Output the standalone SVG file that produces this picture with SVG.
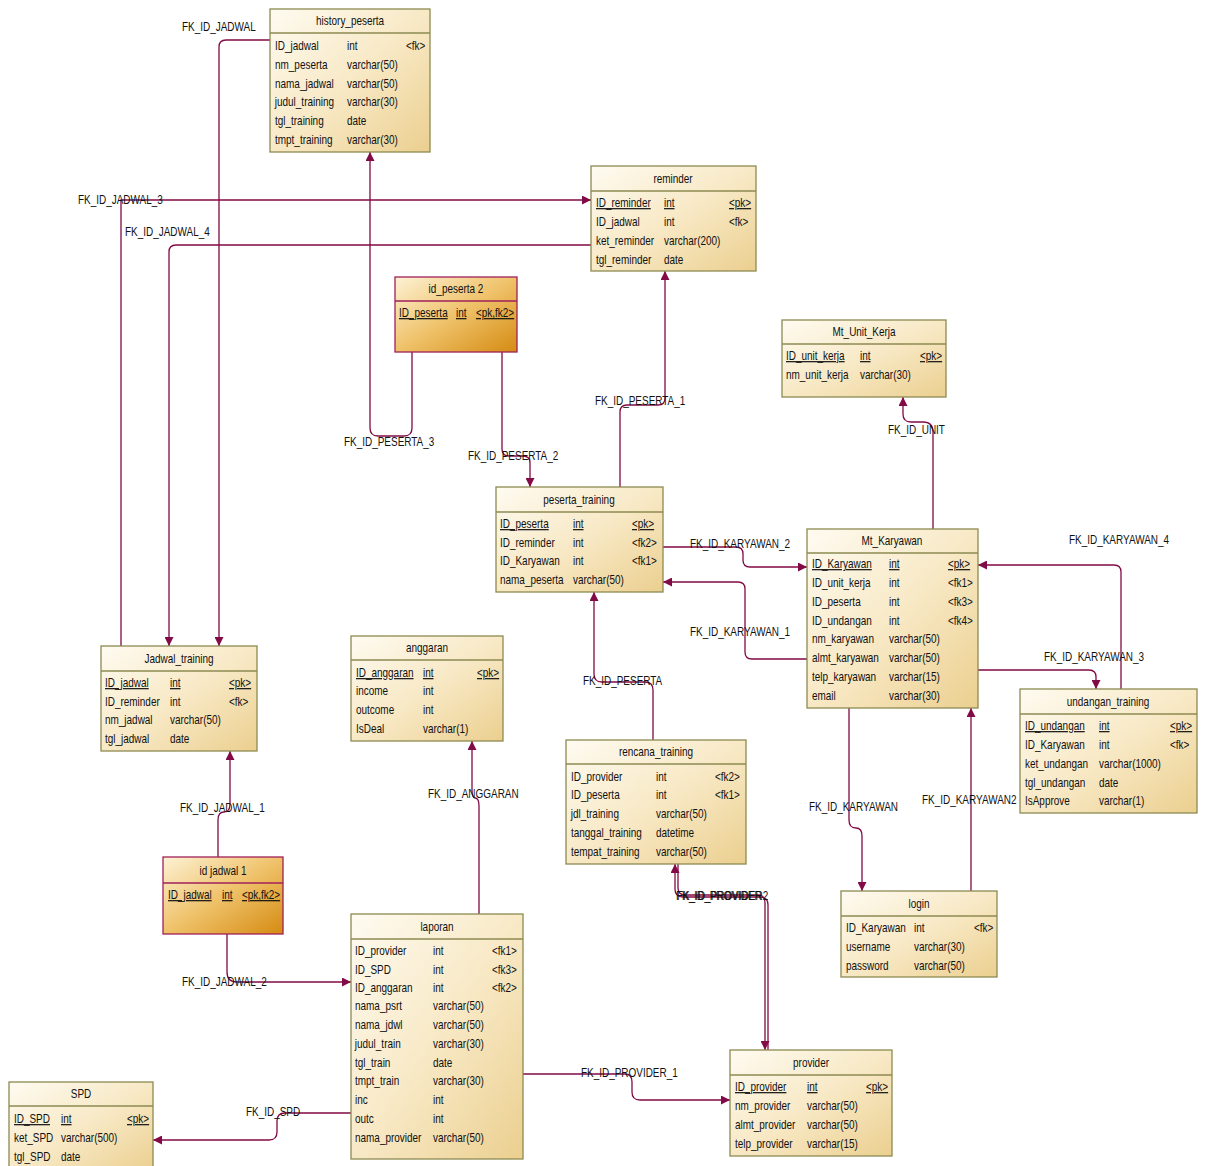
<svg xmlns="http://www.w3.org/2000/svg" width="1208" height="1166" viewBox="0 0 1208 1166">
<defs>
<linearGradient id="gN" x1="0" y1="0" x2="1" y2="1">
<stop offset="0" stop-color="#fefbf1"/>
<stop offset="0.5" stop-color="#f8e9c6"/>
<stop offset="1" stop-color="#ebcf8f"/>
</linearGradient>
<linearGradient id="gO" x1="0" y1="0" x2="1" y2="1">
<stop offset="0" stop-color="#fdf2d6"/>
<stop offset="0.5" stop-color="#efc26a"/>
<stop offset="1" stop-color="#d58b12"/>
</linearGradient>
<marker id="ar" viewBox="0 0 10 10" refX="10" refY="5" markerWidth="10" markerHeight="9" markerUnits="userSpaceOnUse" orient="auto">
<path d="M0,0 L10,5 L0,10 z" fill="#820a46"/>
</marker>
<style>
.b{fill:url(#gN);stroke:#8c8a52;stroke-width:1.3}
.o{fill:url(#gO);stroke:#a0205a;stroke-width:1.3}
.sep{stroke:#8c8a52;stroke-width:1.3}
.sepo{stroke:#a0205a;stroke-width:1.3}
text{font-family:"Liberation Sans",Arial,sans-serif;font-size:12px;fill:#111;transform-box:fill-box;transform-origin:left center;transform:scaleX(0.83)}
text.t{text-anchor:middle;transform-origin:center}
.u{text-decoration:underline}
.c path{fill:none;stroke:#820a46;stroke-width:1.3}
.a{marker-end:url(#ar)}
</style>
</defs>
<rect width="1208" height="1166" fill="#ffffff"/>

<g class="c" id="connectors">
<path class="a" d="M270,40 H226 Q219,40 219,47 V646"/>
<path class="a" d="M121,646 V200 H591"/>
<path class="a" d="M591,245 H176 Q169,245 169,252 V646"/>
<path class="a" d="M412,352 V428 Q412,436 404,436 H378 Q370,436 370,428 V152"/>
<path class="a" d="M502,352 V449 Q502,456 509,456 H523 Q530,456 530,463 V487"/>
<path class="a" d="M620,487 V412 Q620,405 627,405 H658 Q665,405 665,398 V271"/>
<path class="a" d="M933,529 V432 Q933,422 923,422 H911 Q903,422 903,414 V397"/>
<path class="a" d="M663,547 H736 Q743,547 743,554 V560 Q743,567 750,567 H807"/>
<path class="a" d="M807,659 H752 Q745,659 745,652 V589 Q745,582 738,582 H663"/>
<path class="a" d="M1121,689 V572 Q1121,565 1114,565 H978"/>
<path class="a" d="M978,670 H1089 Q1096,670 1096,677 V689"/>
<path class="a" d="M849,708 V820 Q849,828 856,828 Q862,828 862,836 V891"/>
<path class="a" d="M971,891 V708"/>
<path class="a" d="M653,740 V690 Q653,682 645,682 H602 Q594,682 594,674 V592"/>
<path class="a" d="M479,914 V806 Q479,798 475,798 Q472,798 472,790 V741"/>
<path class="a" d="M218,857 V820 Q218,812 224,812 Q230,812 230,804 V751"/>
<path class="a" d="M227,934 V972 Q227,982 237,982 H351"/>
<path class="a" d="M351,1113 H285 Q277,1113 277,1121 V1132 Q277,1140 269,1140 H153"/>
<path class="a" d="M523,1074 H625 Q632,1074 632,1082 V1092 Q632,1100 640,1100 H730"/>
<path class="a" d="M768,1050 V905 Q768,897 760,897 H683 Q675,897 675,889 V864"/>
<path class="a" d="M678,864 V888 Q678,895 686,895 H758 Q765,895 765,903 V1050"/>
</g>

<g id="labels">
<text x="182" y="31">FK_ID_JADWAL</text>
<text x="78" y="204">FK_ID_JADWAL_3</text>
<text x="125" y="236">FK_ID_JADWAL_4</text>
<text x="344" y="446">FK_ID_PESERTA_3</text>
<text x="468" y="460">FK_ID_PESERTA_2</text>
<text x="595" y="405">FK_ID_PESERTA_1</text>
<text x="888" y="434">FK_ID_UNIT</text>
<text x="690" y="548">FK_ID_KARYAWAN_2</text>
<text x="690" y="636">FK_ID_KARYAWAN_1</text>
<text x="1069" y="544">FK_ID_KARYAWAN_4</text>
<text x="1044" y="661">FK_ID_KARYAWAN_3</text>
<text x="809" y="811">FK_ID_KARYAWAN</text>
<text x="922" y="804">FK_ID_KARYAWAN2</text>
<text x="583" y="685">FK_ID_PESERTA</text>
<text x="428" y="798">FK_ID_ANGGARAN</text>
<text x="180" y="812">FK_ID_JADWAL_1</text>
<text x="182" y="986">FK_ID_JADWAL_2</text>
<text x="246" y="1116">FK_ID_SPD</text>
<text x="581" y="1077">FK_ID_PROVIDER_1</text>
<text x="676" y="900">FK_ID_PROVIDER</text>
<text x="677" y="900">FK_ID_PROVIDER2</text>
</g>

<g id="history_peserta">
<rect class="b" x="270" y="9" width="160" height="143"/>
<line class="sep" x1="270" y1="33" x2="430" y2="33"/>
<text class="t" x="350" y="25">history_peserta</text>
<text x="275" y="50">ID_jadwal</text><text x="347" y="50">int</text><text x="406" y="50">&lt;fk&gt;</text>
<text x="275" y="69">nm_peserta</text><text x="347" y="69">varchar(50)</text>
<text x="275" y="88">nama_jadwal</text><text x="347" y="88">varchar(50)</text>
<text x="275" y="106">judul_training</text><text x="347" y="106">varchar(30)</text>
<text x="275" y="125">tgl_training</text><text x="347" y="125">date</text>
<text x="275" y="144">tmpt_training</text><text x="347" y="144">varchar(30)</text>
</g>

<g id="reminder">
<rect class="b" x="591" y="166" width="165" height="105"/>
<line class="sep" x1="591" y1="191" x2="756" y2="191"/>
<text class="t" x="673" y="183">reminder</text>
<text class="u" x="596" y="207">ID_reminder</text><text class="u" x="664" y="207">int</text><text class="u" x="729" y="207">&lt;pk&gt;</text>
<text x="596" y="226">ID_jadwal</text><text x="664" y="226">int</text><text x="729" y="226">&lt;fk&gt;</text>
<text x="596" y="245">ket_reminder</text><text x="664" y="245">varchar(200)</text>
<text x="596" y="264">tgl_reminder</text><text x="664" y="264">date</text>
</g>

<g id="id_peserta_2">
<rect class="o" x="395" y="277" width="122" height="75"/>
<line class="sepo" x1="395" y1="301" x2="517" y2="301"/>
<text class="t" x="456" y="293">id_peserta 2</text>
<text class="u" x="399" y="317">ID_peserta</text><text class="u" x="456" y="317">int</text><text class="u" x="476" y="317">&lt;pk,fk2&gt;</text>
</g>

<g id="Mt_Unit_Kerja">
<rect class="b" x="782" y="320" width="164" height="77"/>
<line class="sep" x1="782" y1="344" x2="946" y2="344"/>
<text class="t" x="864" y="336">Mt_Unit_Kerja</text>
<text class="u" x="786" y="360">ID_unit_kerja</text><text class="u" x="860" y="360">int</text><text class="u" x="920" y="360">&lt;pk&gt;</text>
<text x="786" y="379">nm_unit_kerja</text><text x="860" y="379">varchar(30)</text>
</g>

<g id="peserta_training">
<rect class="b" x="496" y="487" width="167" height="105"/>
<line class="sep" x1="496" y1="512" x2="663" y2="512"/>
<text class="t" x="579" y="504">peserta_training</text>
<text class="u" x="500" y="528">ID_peserta</text><text class="u" x="573" y="528">int</text><text class="u" x="632" y="528">&lt;pk&gt;</text>
<text x="500" y="547">ID_reminder</text><text x="573" y="547">int</text><text x="632" y="547">&lt;fk2&gt;</text>
<text x="500" y="565">ID_Karyawan</text><text x="573" y="565">int</text><text x="632" y="565">&lt;fk1&gt;</text>
<text x="500" y="584">nama_peserta</text><text x="573" y="584">varchar(50)</text>
</g>

<g id="Mt_Karyawan">
<rect class="b" x="807" y="529" width="171" height="179"/>
<line class="sep" x1="807" y1="553" x2="978" y2="553"/>
<text class="t" x="892" y="545">Mt_Karyawan</text>
<text class="u" x="812" y="568">ID_Karyawan</text><text class="u" x="889" y="568">int</text><text class="u" x="948" y="568">&lt;pk&gt;</text>
<text x="812" y="587">ID_unit_kerja</text><text x="889" y="587">int</text><text x="948" y="587">&lt;fk1&gt;</text>
<text x="812" y="606">ID_peserta</text><text x="889" y="606">int</text><text x="948" y="606">&lt;fk3&gt;</text>
<text x="812" y="625">ID_undangan</text><text x="889" y="625">int</text><text x="948" y="625">&lt;fk4&gt;</text>
<text x="812" y="643">nm_karyawan</text><text x="889" y="643">varchar(50)</text>
<text x="812" y="662">almt_karyawan</text><text x="889" y="662">varchar(50)</text>
<text x="812" y="681">telp_karyawan</text><text x="889" y="681">varchar(15)</text>
<text x="812" y="700">email</text><text x="889" y="700">varchar(30)</text>
</g>

<g id="undangan_training">
<rect class="b" x="1020" y="689" width="177" height="124"/>
<line class="sep" x1="1020" y1="714" x2="1197" y2="714"/>
<text class="t" x="1108" y="706">undangan_training</text>
<text class="u" x="1025" y="730">ID_undangan</text><text class="u" x="1099" y="730">int</text><text class="u" x="1170" y="730">&lt;pk&gt;</text>
<text x="1025" y="749">ID_Karyawan</text><text x="1099" y="749">int</text><text x="1170" y="749">&lt;fk&gt;</text>
<text x="1025" y="768">ket_undangan</text><text x="1099" y="768">varchar(1000)</text>
<text x="1025" y="787">tgl_undangan</text><text x="1099" y="787">date</text>
<text x="1025" y="805">IsApprove</text><text x="1099" y="805">varchar(1)</text>
</g>

<g id="Jadwal_training">
<rect class="b" x="101" y="646" width="156" height="105"/>
<line class="sep" x1="101" y1="671" x2="257" y2="671"/>
<text class="t" x="179" y="663">Jadwal_training</text>
<text class="u" x="105" y="687">ID_jadwal</text><text class="u" x="170" y="687">int</text><text class="u" x="229" y="687">&lt;pk&gt;</text>
<text x="105" y="706">ID_reminder</text><text x="170" y="706">int</text><text x="229" y="706">&lt;fk&gt;</text>
<text x="105" y="724">nm_jadwal</text><text x="170" y="724">varchar(50)</text>
<text x="105" y="743">tgl_jadwal</text><text x="170" y="743">date</text>
</g>

<g id="anggaran">
<rect class="b" x="351" y="636" width="152" height="105"/>
<line class="sep" x1="351" y1="660" x2="503" y2="660"/>
<text class="t" x="427" y="652">anggaran</text>
<text class="u" x="356" y="677">ID_anggaran</text><text class="u" x="423" y="677">int</text><text class="u" x="477" y="677">&lt;pk&gt;</text>
<text x="356" y="695">income</text><text x="423" y="695">int</text>
<text x="356" y="714">outcome</text><text x="423" y="714">int</text>
<text x="356" y="733">IsDeal</text><text x="423" y="733">varchar(1)</text>
</g>

<g id="rencana_training">
<rect class="b" x="566" y="740" width="180" height="124"/>
<line class="sep" x1="566" y1="764" x2="746" y2="764"/>
<text class="t" x="656" y="756">rencana_training</text>
<text x="571" y="781">ID_provider</text><text x="656" y="781">int</text><text x="715" y="781">&lt;fk2&gt;</text>
<text x="571" y="799">ID_peserta</text><text x="656" y="799">int</text><text x="715" y="799">&lt;fk1&gt;</text>
<text x="571" y="818">jdl_training</text><text x="656" y="818">varchar(50)</text>
<text x="571" y="837">tanggal_training</text><text x="656" y="837">datetime</text>
<text x="571" y="856">tempat_training</text><text x="656" y="856">varchar(50)</text>
</g>

<g id="login">
<rect class="b" x="841" y="891" width="156" height="86"/>
<line class="sep" x1="841" y1="916" x2="997" y2="916"/>
<text class="t" x="919" y="908">login</text>
<text x="846" y="932">ID_Karyawan</text><text x="914" y="932">int</text><text x="974" y="932">&lt;fk&gt;</text>
<text x="846" y="951">username</text><text x="914" y="951">varchar(30)</text>
<text x="846" y="970">password</text><text x="914" y="970">varchar(50)</text>
</g>

<g id="id_jadwal_1">
<rect class="o" x="163" y="857" width="120" height="77"/>
<line class="sepo" x1="163" y1="883" x2="283" y2="883"/>
<text class="t" x="223" y="875">id jadwal 1</text>
<text class="u" x="168" y="899">ID_jadwal</text><text class="u" x="222" y="899">int</text><text class="u" x="242" y="899">&lt;pk,fk2&gt;</text>
</g>

<g id="laporan">
<rect class="b" x="351" y="914" width="172" height="245"/>
<line class="sep" x1="351" y1="939" x2="523" y2="939"/>
<text class="t" x="437" y="931">laporan</text>
<text x="355" y="955">ID_provider</text><text x="433" y="955">int</text><text x="492" y="955">&lt;fk1&gt;</text>
<text x="355" y="974">ID_SPD</text><text x="433" y="974">int</text><text x="492" y="974">&lt;fk3&gt;</text>
<text x="355" y="992">ID_anggaran</text><text x="433" y="992">int</text><text x="492" y="992">&lt;fk2&gt;</text>
<text x="355" y="1010">nama_psrt</text><text x="433" y="1010">varchar(50)</text>
<text x="355" y="1029">nama_jdwl</text><text x="433" y="1029">varchar(50)</text>
<text x="355" y="1048">judul_train</text><text x="433" y="1048">varchar(30)</text>
<text x="355" y="1067">tgl_train</text><text x="433" y="1067">date</text>
<text x="355" y="1085">tmpt_train</text><text x="433" y="1085">varchar(30)</text>
<text x="355" y="1104">inc</text><text x="433" y="1104">int</text>
<text x="355" y="1123">outc</text><text x="433" y="1123">int</text>
<text x="355" y="1142">nama_provider</text><text x="433" y="1142">varchar(50)</text>
</g>

<g id="provider">
<rect class="b" x="730" y="1050" width="162" height="106"/>
<line class="sep" x1="730" y1="1075" x2="892" y2="1075"/>
<text class="t" x="811" y="1067">provider</text>
<text class="u" x="735" y="1091">ID_provider</text><text class="u" x="807" y="1091">int</text><text class="u" x="866" y="1091">&lt;pk&gt;</text>
<text x="735" y="1110">nm_provider</text><text x="807" y="1110">varchar(50)</text>
<text x="735" y="1129">almt_provider</text><text x="807" y="1129">varchar(50)</text>
<text x="735" y="1148">telp_provider</text><text x="807" y="1148">varchar(15)</text>
</g>

<g id="SPD">
<rect class="b" x="9" y="1082" width="144" height="90"/>
<line class="sep" x1="9" y1="1106" x2="153" y2="1106"/>
<text class="t" x="81" y="1098">SPD</text>
<text class="u" x="14" y="1123">ID_SPD</text><text class="u" x="61" y="1123">int</text><text class="u" x="127" y="1123">&lt;pk&gt;</text>
<text x="14" y="1142">ket_SPD</text><text x="61" y="1142">varchar(500)</text>
<text x="14" y="1161">tgl_SPD</text><text x="61" y="1161">date</text>
</g>
</svg>
